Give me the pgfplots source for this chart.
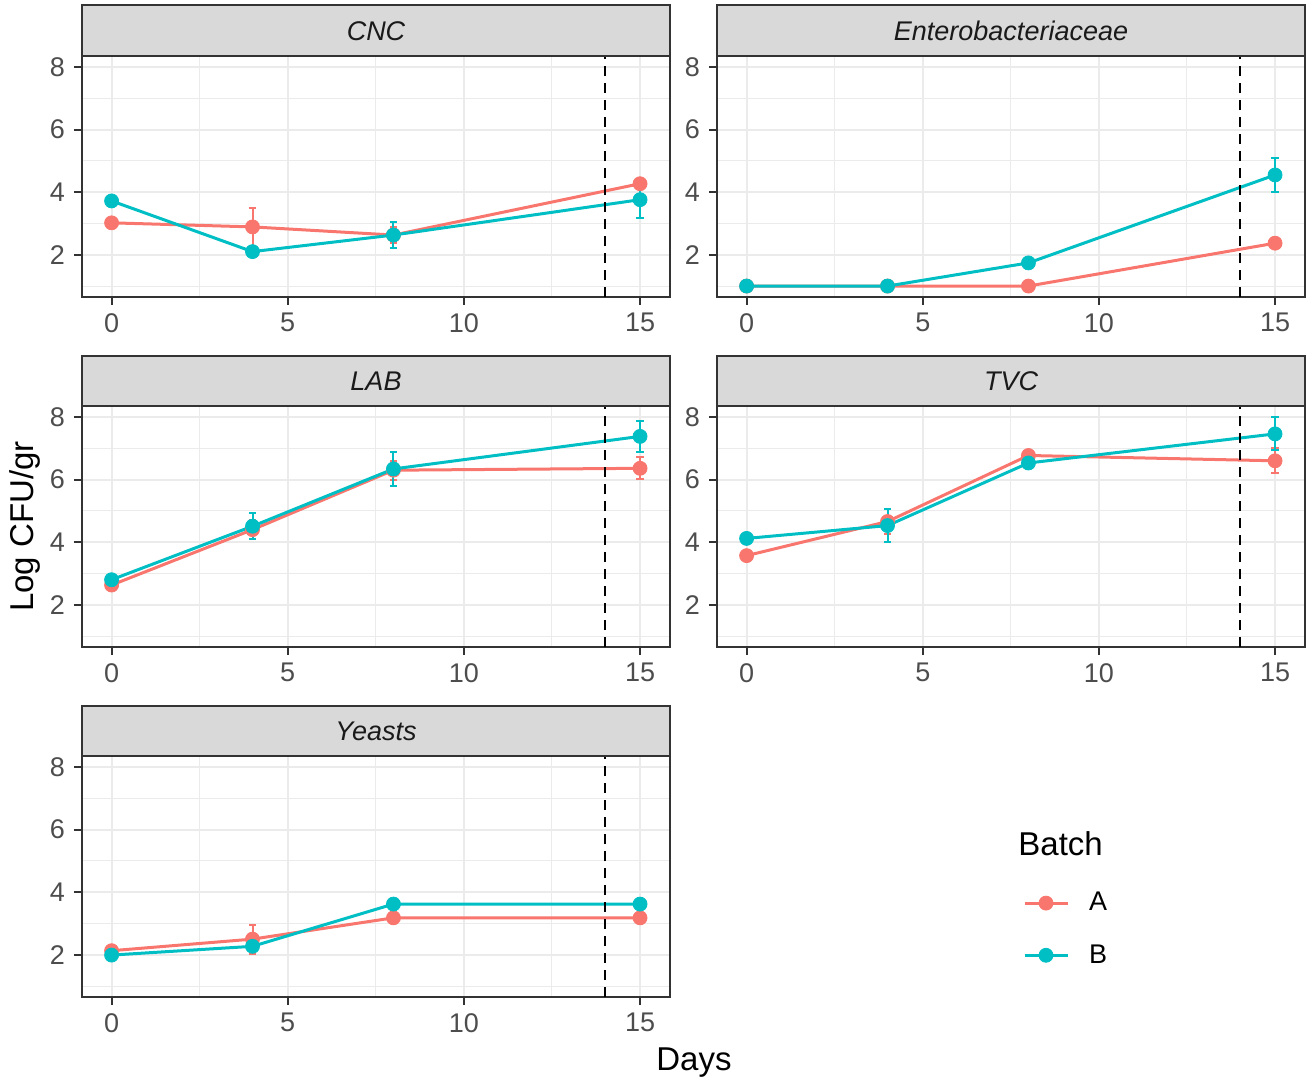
\documentclass[border=0pt]{standalone}
\usepackage{pgfplots}
\pgfplotsset{compat=1.18}
\usepackage{pgfplotstable}
\usepackage{fontspec}
\setmainfont{Liberation Sans}

\definecolor{colA}{HTML}{F8766D}
\definecolor{colB}{HTML}{00BFC4}
\definecolor{gray10}{HTML}{1A1A1A}
\definecolor{gray20}{HTML}{333333}
\definecolor{gray30}{HTML}{4D4D4D}
\definecolor{gray85}{HTML}{D9D9D9}
\definecolor{gray92}{HTML}{EBEBEB}

% day, mean and error for batch A and batch B
\pgfplotstableread{
x  yA   eA   yB   eB
0  3.02 0.00 3.72 0.00
4  2.89 0.62 2.10 0.05
8  2.63 0.27 2.63 0.42
15 4.27 0.10 3.76 0.58
}\cnc
\pgfplotstableread{
x  yA   eA   yB   eB
0  1.00 0.00 1.00 0.00
4  1.00 0.00 1.00 0.00
8  1.00 0.00 1.74 0.05
15 2.37 0.15 4.55 0.53
}\entero
\pgfplotstableread{
x  yA   eA   yB   eB
0  2.63 0.05 2.80 0.05
4  4.40 0.30 4.51 0.41
8  6.30 0.30 6.34 0.53
15 6.36 0.35 7.38 0.50
}\lab
\pgfplotstableread{
x  yA   eA   yB   eB
0  3.57 0.05 4.12 0.05
4  4.66 0.40 4.53 0.54
8  6.77 0.05 6.53 0.05
15 6.60 0.40 7.46 0.53
}\tvc
\pgfplotstableread{
x  yA   eA   yB   eB
0  2.13 0.10 1.99 0.05
4  2.50 0.46 2.27 0.15
8  3.18 0.05 3.62 0.12
15 3.18 0.05 3.62 0.10
}\yeasts

\pgfplotsset{
  panel/.style={
    scale only axis, width=294pt, height=120.5pt,
    xmin=-0.84, xmax=15.85, ymin=0.65, ymax=8.35,
    xtick={0,5,10,15}, ytick={2,4,6,8},
    minor xtick={2.5,7.5,12.5}, minor ytick={1,3,5,7},
    grid=both,
    major grid style={draw=gray92, line width=1pt},
    minor grid style={draw=gray92, line width=0.5pt},
    tick align=outside, tick pos=left,
    major tick length=4pt, minor tick length=0pt,
    tick style={draw=gray20, line width=1pt},
    axis line style={draw=gray20, line width=1pt},
    ticklabel style={font=\fontsize{13.5}{16}\selectfont, text=gray30, inner sep=0pt},
    xticklabel style={yshift=-4pt},
    yticklabel style={xshift=-4.4pt},
    /pgf/number format/assume math mode=true,
  },
}

\newcommand\panel[1]{%
  \addplot[colA, line width=1.5pt, mark=none] table[x=x, y=yA] {#1};
  \addplot[colB, line width=1.5pt, mark=none] table[x=x, y=yB] {#1};
  \addplot[colA, only marks, mark=*, mark size=3.5pt, mark options={line width=0.4pt}] table[x=x, y=yA] {#1};
  \addplot[colB, only marks, mark=*, mark size=3.5pt, mark options={line width=0.4pt}] table[x=x, y=yB] {#1};
  \addplot[draw=none, error bars/.cd, y dir=both, y explicit,
    error bar style={draw=colA, line width=1pt, solid},
    error mark options={draw=colA, line width=1pt, mark size=1.8pt, rotate=90}]
    table[x=x, y=yA, y error=eA] {#1};
  \addplot[draw=none, error bars/.cd, y dir=both, y explicit,
    error bar style={draw=colB, line width=1pt, solid},
    error mark options={draw=colB, line width=1pt, mark size=1.8pt, rotate=90}]
    table[x=x, y=yB, y error=eB] {#1};
  \addplot[black, line width=1pt, dash pattern=on 5pt off 3.5pt] coordinates {(14,0.65) (14,8.35)};
}

\begin{document}
\begin{tikzpicture}
\useasboundingbox (0,0) rectangle (656pt,-542pt);

\begin{axis}[panel, at={(41pt,-148.5pt)}, anchor=south west]
\panel{\cnc}
\end{axis}
\begin{axis}[panel, at={(358.5pt,-148.5pt)}, anchor=south west]
\panel{\entero}
\end{axis}
\begin{axis}[panel, at={(41pt,-323.5pt)}, anchor=south west]
\panel{\lab}
\end{axis}
\begin{axis}[panel, at={(358.5pt,-323.5pt)}, anchor=south west]
\panel{\tvc}
\end{axis}
\begin{axis}[panel, at={(41pt,-498.5pt)}, anchor=south west]
\panel{\yeasts}
\end{axis}

% facet strips
\begin{scope}[every node/.style={anchor=base, inner sep=0pt, text=gray10,
    font=\fontsize{13.5}{16}\selectfont\itshape}]
\draw[fill=gray85, draw=gray20, line width=1pt] (41pt,-2.5pt) rectangle (335pt,-28pt);
\draw[fill=gray85, draw=gray20, line width=1pt] (358.5pt,-2.5pt) rectangle (652.5pt,-28pt);
\draw[fill=gray85, draw=gray20, line width=1pt] (41pt,-178pt) rectangle (335pt,-203pt);
\draw[fill=gray85, draw=gray20, line width=1pt] (358.5pt,-178pt) rectangle (652.5pt,-203pt);
\draw[fill=gray85, draw=gray20, line width=1pt] (41pt,-353pt) rectangle (335pt,-378pt);
\node at (188pt,-20.35pt) {CNC};
\node at (505.5pt,-20.35pt) {Enterobacteriaceae};
\node at (188pt,-195.35pt) {LAB};
\node at (505.5pt,-195.35pt) {TVC};
\node at (188pt,-370.35pt) {Yeasts};
\end{scope}

% axis titles
\node[rotate=90, anchor=base, inner sep=0pt, font=\fontsize{16.5}{19}\selectfont] at (16.5pt,-263.3pt) {Log CFU/gr};
\node[anchor=base, inner sep=0pt, font=\fontsize{16.5}{19}\selectfont] at (347pt,-535pt) {Days};

% legend
\node[anchor=base west, inner sep=0pt, font=\fontsize{16.5}{19}\selectfont] at (509pt,-427.5pt) {Batch};
\begin{axis}[hide axis, scale only axis, width=1pt, height=1pt,
  at={(511.5pt,-446.15pt)}, anchor=south west,
  xmin=0, xmax=1, ymin=0, ymax=1,
  legend cell align=left,
  legend image code/.code={\draw[mark repeat=2, mark phase=2, #1] plot coordinates {(0pt,0pt) (10.75pt,0pt) (21.5pt,0pt)};},
  legend style={at={(0,0)}, anchor=north west, draw=none, fill=none,
    inner sep=0pt, outer sep=0pt, row sep=15.3pt,
    nodes={inner sep=0pt, text=black, font=\fontsize{13.5}{16}\selectfont},
    /tikz/every odd column/.append style={column sep=10pt}}]
\addlegendimage{colA, line width=1.5pt, mark=*, mark size=3.5pt, mark options={line width=0.4pt}}
\addlegendentry{A}
\addlegendimage{colB, line width=1.5pt, mark=*, mark size=3.5pt, mark options={line width=0.4pt}}
\addlegendentry{B}
\end{axis}
\end{tikzpicture}
\end{document}
